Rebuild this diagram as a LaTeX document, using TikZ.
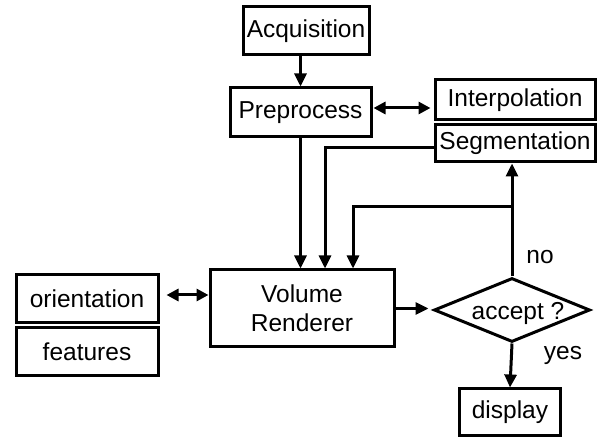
\documentclass[tikz,border=0pt]{standalone}
\usepackage{fontspec}
\setmainfont{Liberation Sans}
\usetikzlibrary{arrows.meta,shapes.geometric}
\begin{document}
\begin{tikzpicture}[x=1pt,y=-1pt,
  txt/.style={font=\fontsize{24.5}{29}\selectfont},
  box/.style={txt,draw,line width=3pt,inner sep=0pt,align=center},
  conn/.style={line width=3pt},
  arr/.style={conn,-{Triangle[length=13pt,width=12pt]}},
  darr/.style={conn,{Triangle[length=12pt,width=12pt]}-{Triangle[length=12pt,width=12pt]}},
  lbl/.style={txt,inner sep=0pt}]
\useasboundingbox (0,0) rectangle (600,438);
% boxes
\node[box,minimum width=126pt,minimum height=48pt] (acq) at (306,31) {Acquisition};
\node[box,minimum width=141pt,minimum height=49pt] (pre) at (300.5,112.5) {Preprocess};
\node[box,minimum width=160pt,minimum height=40pt] (interp) at (515,100) {Interpolation};
\node[box,minimum width=160pt,minimum height=37pt] (seg) at (515,143.5) {Segmentation};
\node[box,minimum width=184pt,minimum height=77pt] (vr) at (302,308.5) {Volume\\Renderer};
\node[box,minimum width=142pt,minimum height=48pt] (orient) at (87,299) {orientation};
\node[box,minimum width=142pt,minimum height=48pt] (feat) at (87,352) {features};
\node[draw,diamond,line width=3pt,inner sep=0pt,aspect=2.44,minimum width=156pt,minimum height=64pt] (acc) at (512,310) {};
\node[lbl] (acctext) at (518,313) {accept ?};
\node[box,minimum width=101pt,minimum height=46pt] (disp) at (510,412) {display};
% labels
\node[lbl] (no) at (540,257) {no};
\node[lbl] (yes) at (563,355) {yes};
% helper coordinates
\coordinate (pi) at (0,108);
\coordinate (oi) at (0,295);
\coordinate (c1) at (325,0);
\coordinate (c2) at (353,207);
% connectors
\draw[arr] (acq.south -| pre.north) -- (pre.north);
\draw[darr,shorten <=1pt,shorten >=3pt] (pre.east |- pi) -- (interp.west |- pi);
\draw[arr] (pre.south) -- (pre.south |- vr.north);
\draw[arr] ([yshift=-4.5pt]seg.west) -| (c1 |- vr.north);
\draw[arr] (acc.north) -- (acc.north |- seg.south);
\draw[arr] (acc.north |- c2) -| (c2 |- vr.north);
\draw[arr,shorten >=4pt] (vr.east) -- (vr.east -| acc.west);
\draw[arr] (acc.south) -- (disp.north);
\draw[darr,shorten <=7pt] (orient.east |- oi) -- (vr.west |- oi);
\end{tikzpicture}
\end{document}
